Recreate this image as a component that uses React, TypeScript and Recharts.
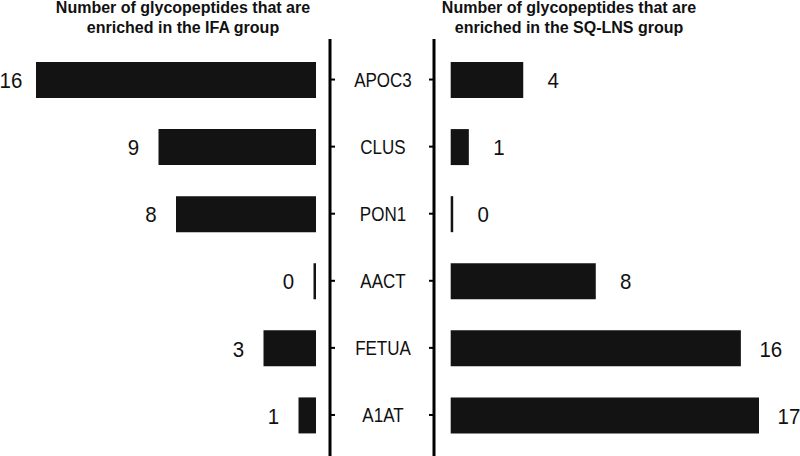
import { BarChart, Bar, XAxis, YAxis, LabelList } from "recharts";

const proteins = ["APOC3", "CLUS", "PON1", "AACT", "FETUA", "A1AT"];
const ifaCounts = [16, 9, 8, 0, 3, 1];
const sqlnsCounts = [4, 1, 0, 8, 16, 17];

const leftTitle = ["Number of glycopeptides that are", "enriched in the IFA group"];
const rightTitle = ["Number of glycopeptides that are", "enriched in the SQ-LNS group"];

const FONT = "'Liberation Sans', Arial, sans-serif";
const BAR_COLOR = "#131313";

const rows = proteins.map((name, i) => ({
  name,
  ifa: ifaCounts[i],
  sqlns: sqlnsCounts[i],
}));

// labels in the original are a bit taller than wide, so stretch them vertically
const StretchedText = ({ x, y, size, sy, children }: any) => (
  <text
    transform={`translate(${x},${y}) scale(1,${sy})`}
    textAnchor="middle"
    fontSize={size}
    fontFamily={FONT}
    fill="#111"
  >
    {children}
  </text>
);

// value labels sit outside the bar end
const LeftValue = (props: any) => {
  const { x, y, width, height, value } = props;
  const edge = Math.min(x, x + width);
  return (
    <StretchedText x={edge - 25} y={y + height / 2 + 8.2} size={20.5} sy={1.12}>
      {value}
    </StretchedText>
  );
};

const RightValue = (props: any) => {
  const { x, y, width, height, value } = props;
  const edge = Math.max(x, x + width);
  return (
    <StretchedText x={edge + 30} y={y + height / 2 + 8.2} size={20.5} sy={1.12}>
      {value}
    </StretchedText>
  );
};

const NoTick = () => <g />;

const CenterTick = (props: any) => {
  const { x, y, payload } = props;
  return (
    <StretchedText x={x} y={y + 7} size={17} sy={1.17}>
      {payload.value}
    </StretchedText>
  );
};

const Title = ({ lines, center }: { lines: string[]; center: number }) => (
  <div
    style={{
      position: "absolute",
      top: -2,
      left: center - 200,
      width: 400,
      textAlign: "center",
      fontFamily: FONT,
      fontWeight: "bold",
      fontSize: 16,
      lineHeight: "20px",
      color: "#111",
    }}
  >
    {lines.map((l) => (
      <div key={l}>{l}</div>
    ))}
  </div>
);

export default function App() {
  return (
    <div style={{ position: "absolute", left: 0, top: 0, width: 800, height: 456, background: "#fff", overflow: "hidden" }}>
      {/* left half: IFA, bars grow leftwards */}
      <div style={{ position: "absolute", left: 0, top: 0 }}>
        <BarChart width={400} height={456} data={rows} layout="vertical" margin={{ top: 39, right: 0, bottom: 0, left: 36 }}>
          <XAxis type="number" domain={[0, 16]} reversed hide padding={{ left: 0, right: 14 }} />
          <YAxis
            type="category"
            dataKey="name"
            orientation="right"
            width={70}
            axisLine={{ stroke: "#000", strokeWidth: 3 }}
            tickLine={{ stroke: "#000", strokeWidth: 2 }}
            tickSize={5}
            tick={NoTick}
            padding={{ top: 7, bottom: 7.5 }}
          />
          <Bar dataKey="ifa" fill={BAR_COLOR} barSize={36} minPointSize={-2.5} isAnimationActive={false}>
            <LabelList dataKey="ifa" content={LeftValue} />
          </Bar>
        </BarChart>
      </div>

      {/* right half: SQ-LNS, with protein names in the middle */}
      <div style={{ position: "absolute", left: 0, top: 0 }}>
        <BarChart width={800} height={456} data={rows} layout="vertical" margin={{ top: 39, right: 41, bottom: 0, left: 354 }}>
          <XAxis type="number" domain={[0, 17]} hide padding={{ left: 16.7, right: 0 }} />
          <YAxis
            type="category"
            dataKey="name"
            width={80}
            axisLine={{ stroke: "#000", strokeWidth: 3 }}
            tickLine={{ stroke: "#000", strokeWidth: 2 }}
            tickSize={5}
            tickMargin={46}
            tick={CenterTick}
            padding={{ top: 7, bottom: 7.5 }}
          />
          <Bar dataKey="sqlns" fill={BAR_COLOR} barSize={36} minPointSize={2.5} isAnimationActive={false}>
            <LabelList dataKey="sqlns" content={RightValue} />
          </Bar>
        </BarChart>
      </div>

      <Title lines={leftTitle} center={183} />
      <Title lines={rightTitle} center={569} />
    </div>
  );
}
